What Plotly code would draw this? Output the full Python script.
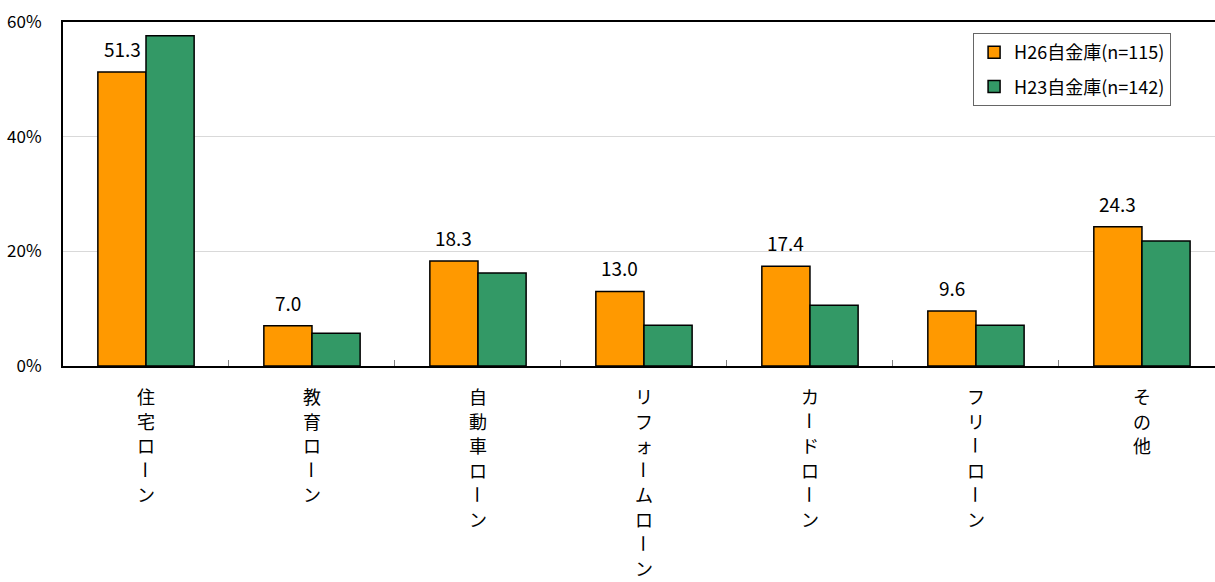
import plotly.graph_objects as go

categories = ["住宅ローン", "教育ローン", "自動車ローン", "リフォームローン", "カードローン", "フリーローン", "その他"]
h26_values = [51.3, 7.0, 18.3, 13.0, 17.4, 9.6, 24.3]
h23_values = [57.6, 5.7, 16.2, 7.1, 10.6, 7.1, 21.8]
series_names = ["H26自金庫(n=115)", "H23自金庫(n=142)"]
y_ticks = [0, 20, 40, 60]
y_tick_labels = ["0%", "20%", "40%", "60%"]

FONT = "Noto Sans CJK JP, Noto Sans, sans-serif"
ORANGE = "#FF9900"
GREEN = "#339966"

fig = go.Figure()
fig.add_trace(go.Bar(
    x=categories, y=h26_values, name=series_names[0], legendgroup="a",
    marker=dict(color=ORANGE, line=dict(color="black", width=1.5)),
))
fig.add_trace(go.Bar(
    x=categories, y=h23_values, name=series_names[1], legendgroup="b",
    marker=dict(color=GREEN, line=dict(color="black", width=1.5)),
))

annotations = []
# value labels over the orange bars
for c, v in zip(categories, h26_values):
    annotations.append(dict(
        x=c, y=v, xref="x", yref="y", text=f"{v:.1f}", showarrow=False,
        xshift=-24, yshift=8, yanchor="bottom",
        font=dict(family=FONT, size=19, color="black"),
    ))
# vertical category labels (one character per line)
for c in categories:
    for i, ch in enumerate(c):
        annotations.append(dict(
            x=c, y=0, xref="x", yref="paper", text=ch, showarrow=False,
            yanchor="middle", xanchor="center", yshift=-(30 + i * 24.6),
            textangle=90 if ch == "ー" else 0, height=24,
            font=dict(family=FONT, size=18, color="black"),
        ))

fig.update_layout(
    width=1215, height=582,
    margin=dict(l=63, r=0, t=22, b=216),
    paper_bgcolor="white", plot_bgcolor="white",
    barmode="group", bargap=0.42, bargroupgap=0,
    font=dict(family=FONT, color="black"),
    showlegend=True,
    legend=dict(
        x=0.79, y=0.968, xanchor="left", yanchor="top",
        bordercolor="#666666", borderwidth=1, bgcolor="white",
        font=dict(family=FONT, size=18, color="black"),
        tracegroupgap=8, traceorder="grouped",
        itemwidth=30,
    ),
    annotations=annotations,
)
fig.update_xaxes(
    type="category", range=[-0.5, 6.44],
    showline=True, linecolor="black", linewidth=2, mirror=True,
    ticks="inside", tickson="boundaries", ticklen=6, tickcolor="#808080",
    showticklabels=False, showgrid=False,
)
fig.update_yaxes(
    range=[0, 60], tickvals=y_ticks, ticktext=y_tick_labels,
    showline=True, linecolor="black", linewidth=2,
    showgrid=True, gridcolor="#d9d9d9", gridwidth=1,
    ticks="", ticklabelstandoff=16,
    tickfont=dict(family=FONT, size=17, color="black"),
    zeroline=False,
)

fig.write_html("out.html")
